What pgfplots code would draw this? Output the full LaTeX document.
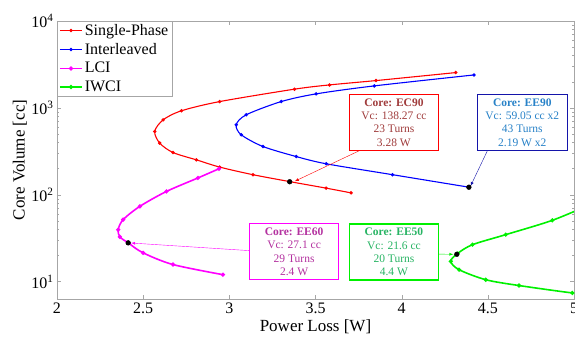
\documentclass[border=0pt]{standalone}
\usepackage{pgfplots}
\pgfplotsset{compat=1.18}
\usepackage{fontspec}
\setmainfont{Liberation Serif}
\definecolor{myred}{RGB}{255,0,0}
\definecolor{myblue}{RGB}{0,0,255}
\definecolor{mymag}{RGB}{255,0,255}
\definecolor{mygreen}{RGB}{0,240,0}
\definecolor{txtred}{RGB}{160,60,60}
\definecolor{txtblue}{RGB}{40,130,200}
\definecolor{txtmag}{RGB}{180,50,160}
\definecolor{txtgreen}{RGB}{40,180,100}
\definecolor{bordblue}{RGB}{20,20,170}
\begin{document}
\begin{tikzpicture}
\begin{axis}[
  scale only axis, width=517pt, height=278pt,
  ymode=log, xmin=2, xmax=5, ymin=6.3, ymax=10000,
  xtick={2,2.5,3,3.5,4,4.5,5},
  xticklabel style={/pgf/number format/assume math mode=true},
  ytick={10,100,1000,10000},
  yticklabels={10\textsuperscript{1},10\textsuperscript{2},10\textsuperscript{3},10\textsuperscript{4}},
  tick label style={font=\fontsize{16}{18}\selectfont},
  axis line style={gray!70},
  tick style={gray!70},
  tick align=inside,
  major tick length=4pt, minor tick length=2.5pt,
  xlabel={Power Loss [W]}, ylabel={Core Volume [cc]},
  label style={font=\fontsize{17}{19}\selectfont},
  xlabel style={at={(axis description cs:0.5,-0.1)},anchor=center},
  ylabel style={at={(axis description cs:-0.072,0.5)},anchor=center},
  legend style={at={(0,1)},anchor=north west,draw=gray!70,
    font=\fontsize{16}{18}\selectfont, inner xsep=2pt, inner ysep=1pt, row sep=2.5pt,
    cells={anchor=west}},
  legend cell align=left,
  legend image code/.code={\draw[mark repeat=2,mark phase=2,#1] plot coordinates {(0pt,0pt) (11pt,0pt) (22pt,0pt)};},
  clip=true,
]
\addplot[myred, line width=1.1pt, mark=*, mark size=1.1pt, smooth, tension=0.5] coordinates {
 (4.314,2547) (3.851,2061) (3.581,1837) (3.378,1641) (2.944,1181) (2.722,925)
 (2.616,728) (2.567,535) (2.596,393) (2.673,306) (2.809,252) (2.944,208)
 (3.137,170) (3.355,141) (3.562,119) (3.706,105)};
\addlegendentry{Single-Phase}
\addplot[myblue, line width=1.1pt, mark=*, mark size=1.1pt, smooth, tension=0.5] coordinates {
 (4.420,2393) (3.841,1790) (3.504,1449) (3.301,1181) (3.098,832) (3.040,638)
 (3.069,490) (3.195,359) (3.388,275) (3.562,227) (3.947,170) (4.391,122)};
\addlegendentry{Interleaved}
\addplot[mymag, line width=1.6pt, mark=*, mark size=1.2pt, smooth, tension=0.5] coordinates {
 (2.940,199) (2.818,156) (2.635,109) (2.481,73.5) (2.384,51.7) (2.355,39.6)
 (2.365,32.7) (2.413,27.9) (2.500,21.4) (2.673,15.7) (2.963,12.0)};
\addlegendentry{LCI}
\addplot[mygreen, line width=1.6pt, mark=*, mark size=1.2pt, smooth, tension=0.5] coordinates {
 (5.10,78) (4.874,50.7) (4.604,34.7) (4.411,26.6) (4.324,21.0) (4.285,17.1)
 (4.333,13.7) (4.488,10.5) (4.681,9.0) (4.990,7.4) (5.10,7.2)};
\addlegendentry{IWCI}
% highlighted design points
\addplot[only marks, mark=*, mark size=2.4pt, black, forget plot] coordinates {
 (3.35,141) (4.39,122) (2.413,27.9) (4.32,20.6)};
% arrows
\draw[-latex, myred, thin] (axis cs:3.754,321) -- (axis cs:3.38,143);
\draw[-latex, bordblue, thin] (axis cs:4.50,329) -- (axis cs:4.40,126);
\draw[-latex, mymag, thin] (axis cs:3.118,22.7) -- (axis cs:2.43,27.8);
\draw[-latex, mygreen, thin] (axis cs:4.214,20.7) -- (axis cs:4.30,20.6);
% boxes
\node[draw=myred, line width=1.3pt, fill=white, minimum width=89pt, minimum height=56pt, inner sep=1pt, align=center,
  text=txtred, font=\fontsize{11.5}{13.3}\selectfont] at (axis cs:3.955,681)
  {\textbf{Core: EC90}\\Vc: 138.27 cc\\23 Turns\\3.28 W};
\node[draw=bordblue, line width=1.3pt, fill=white, minimum width=90pt, minimum height=56pt, inner sep=1pt, align=center,
  text=txtblue, font=\fontsize{11.5}{13.3}\selectfont] at (axis cs:4.700,681)
  {\textbf{Core: EE90}\\Vc: 59.05 cc x2\\43 Turns\\2.19 W x2};
\node[draw=mymag, line width=1.3pt, fill=white, minimum width=89pt, minimum height=56pt, inner sep=1pt, align=center,
  text=txtmag, font=\fontsize{11.5}{13.3}\selectfont] at (axis cs:3.376,22.1)
  {\textbf{Core: EE60}\\Vc: 27.1 cc\\29 Turns\\2.4 W};
\node[draw=mygreen, line width=1.3pt, fill=white, minimum width=89pt, minimum height=56pt, inner sep=1pt, align=center,
  text=txtgreen, font=\fontsize{11.5}{13.3}\selectfont] at (axis cs:3.955,21.9)
  {\textbf{Core: EE50}\\Vc: 21.6 cc\\20 Turns\\4.4 W};
\end{axis}
\pgfresetboundingbox
\useasboundingbox (-57pt,-40pt) rectangle (518pt,299pt);
\end{tikzpicture}
\end{document}
